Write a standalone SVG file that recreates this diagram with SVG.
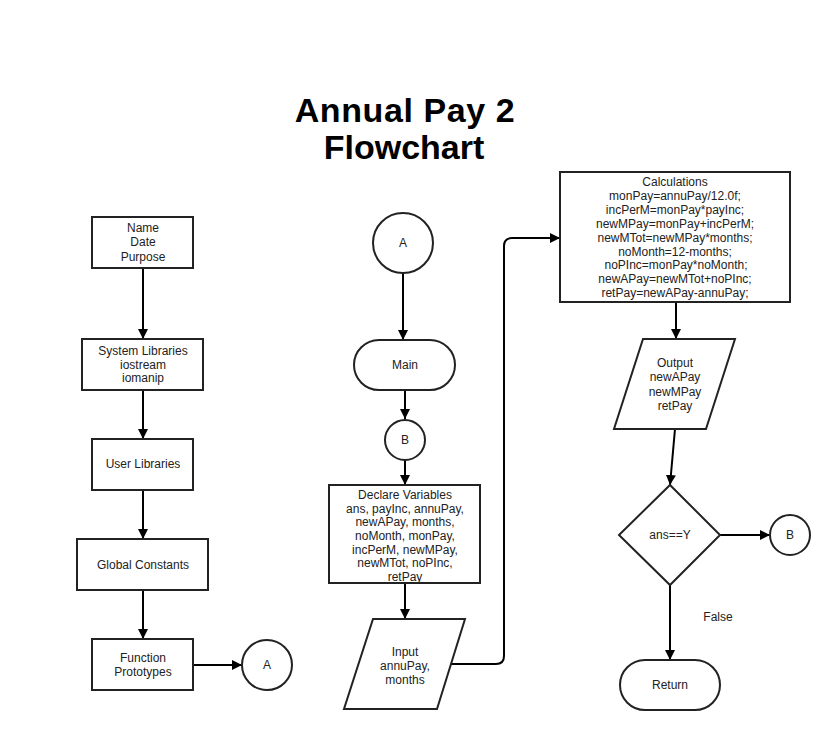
<svg xmlns="http://www.w3.org/2000/svg" width="837" height="730" viewBox="0 0 837 730">
<style>
.shape{fill:#fff;stroke:#222;stroke-width:2}
.t{font-family:"Liberation Sans",Arial,sans-serif;font-size:12px;fill:#222;text-anchor:middle}
.title{font-family:"Liberation Sans",Arial,sans-serif;font-size:34px;font-weight:bold;fill:#000;text-anchor:middle}
.c{fill:none;stroke:#000;stroke-width:2}
</style>
<defs>
<marker id="ah" markerUnits="userSpaceOnUse" markerWidth="11" markerHeight="10" refX="10" refY="5" orient="auto">
<path d="M0,0 L10,5 L0,10 z" fill="#000"/>
</marker>
</defs>
<rect width="837" height="730" fill="#fff"/>
<g id="title">
<text class="title" x="405" y="122" letter-spacing="0.6">Annual Pay 2</text>
<text class="title" x="404" y="159">Flowchart</text>
</g>
<g id="connectors">
<path class="c" d="M143,268 V339" marker-end="url(#ah)"/>
<path class="c" d="M143,390 V439" marker-end="url(#ah)"/>
<path class="c" d="M143,490 V539" marker-end="url(#ah)"/>
<path class="c" d="M143,590 V639" marker-end="url(#ah)"/>
<path class="c" d="M193,665 H242" marker-end="url(#ah)"/>
<path class="c" d="M403,273 V340" marker-end="url(#ah)"/>
<path class="c" d="M405,390 V419" marker-end="url(#ah)"/>
<path class="c" d="M405,460 V485" marker-end="url(#ah)"/>
<path class="c" d="M405,583 V619" marker-end="url(#ah)"/>
<path class="c" d="M451,664 H496 Q504,664 504,656 V246 Q504,238 512,238 H560" marker-end="url(#ah)"/>
<path class="c" d="M676,302 V339" marker-end="url(#ah)"/>
<path class="c" d="M675,429 L670,485" marker-end="url(#ah)"/>
<path class="c" d="M720,535 H770" marker-end="url(#ah)"/>
<path class="c" d="M670,585 V660" marker-end="url(#ah)"/>
<text class="t" x="718" y="621">False</text>
</g>
<g id="name">
<rect class="shape" x="92" y="217" width="101" height="51"/>
<text class="t" x="143" y="232">Name</text>
<text class="t" x="143" y="246">Date</text>
<text class="t" x="143" y="261">Purpose</text>
</g>
<g id="syslib">
<rect class="shape" x="82" y="339" width="121" height="51"/>
<text class="t" x="143" y="355">System Libraries</text>
<text class="t" x="143" y="369">iostream</text>
<text class="t" x="143" y="382">iomanip</text>
</g>
<g id="userlib">
<rect class="shape" x="92" y="439" width="101" height="51"/>
<text class="t" x="143" y="468">User Libraries</text>
</g>
<g id="global">
<rect class="shape" x="77" y="539" width="131" height="51"/>
<text class="t" x="143" y="569">Global Constants</text>
</g>
<g id="proto">
<rect class="shape" x="92" y="639" width="101" height="51"/>
<text class="t" x="143" y="662">Function</text>
<text class="t" x="143" y="676">Prototypes</text>
</g>
<g id="connA1">
<circle class="shape" cx="267" cy="665" r="25"/>
<text class="t" x="267" y="669">A</text>
</g>
<g id="connA2">
<circle class="shape" cx="403" cy="243" r="30"/>
<text class="t" x="403" y="247">A</text>
</g>
<g id="main">
<rect class="shape" x="354" y="340" width="101" height="50" rx="25" ry="25"/>
<text class="t" x="405" y="369">Main</text>
</g>
<g id="connB1">
<circle class="shape" cx="405" cy="440" r="20"/>
<text class="t" x="405" y="444">B</text>
</g>
<g id="declare">
<rect class="shape" x="329" y="485" width="151" height="98"/>
<text class="t" x="405" y="499">Declare Variables</text>
<text class="t" x="405" y="513">ans, payInc, annuPay,</text>
<text class="t" x="405" y="526">newAPay, months,</text>
<text class="t" x="405" y="540">noMonth, monPay,</text>
<text class="t" x="405" y="554">incPerM, newMPay,</text>
<text class="t" x="405" y="567">newMTot, noPInc,</text>
<text class="t" x="405" y="581">retPay</text>
</g>
<g id="input">
<polygon class="shape" points="373,619 465,619 437,709 344,709"/>
<text class="t" x="405" y="656">Input</text>
<text class="t" x="405" y="670">annuPay,</text>
<text class="t" x="405" y="684">months</text>
</g>
<g id="calc">
<rect class="shape" x="560" y="172" width="230" height="130"/>
<text class="t" x="675" y="186">Calculations</text>
<text class="t" x="675" y="200">monPay=annuPay/12.0f;</text>
<text class="t" x="675" y="214">incPerM=monPay*payInc;</text>
<text class="t" x="675" y="228">newMPay=monPay+incPerM;</text>
<text class="t" x="675" y="242">newMTot=newMPay*months;</text>
<text class="t" x="675" y="256">noMonth=12-months;</text>
<text class="t" x="676" y="269">noPInc=monPay*noMonth;</text>
<text class="t" x="675" y="283">newAPay=newMTot+noPInc;</text>
<text class="t" x="675" y="297">retPay=newAPay-annuPay;</text>
</g>
<g id="output">
<polygon class="shape" points="643,339 735,339 706,429 614,429"/>
<text class="t" x="675" y="367">Output</text>
<text class="t" x="675" y="381">newAPay</text>
<text class="t" x="675" y="396">newMPay</text>
<text class="t" x="675" y="410">retPay</text>
</g>
<g id="decision">
<polygon class="shape" points="670,485 720,535 670,585 619,535"/>
<text class="t" x="670" y="539">ans==Y</text>
</g>
<g id="connB2">
<circle class="shape" cx="790" cy="535" r="20"/>
<text class="t" x="790" y="539">B</text>
</g>
<g id="return">
<rect class="shape" x="620" y="660" width="100" height="50" rx="25" ry="25"/>
<text class="t" x="670" y="689">Return</text>
</g>
</svg>
